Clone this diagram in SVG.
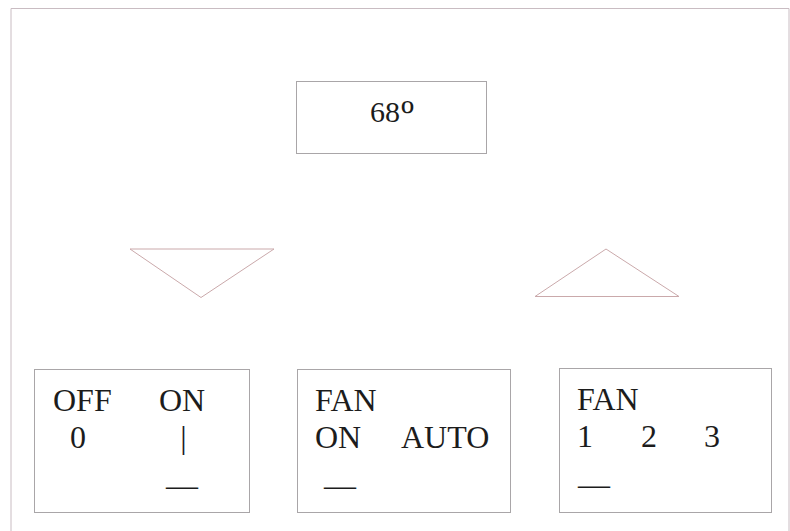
<svg xmlns="http://www.w3.org/2000/svg" width="790" height="531" viewBox="0 0 790 531">
<style>
.frame{fill:none;stroke:#c9bcc2;stroke-width:1}
.box{fill:none;stroke:#a9a6a8;stroke-width:1}
.tri{fill:none;stroke:#caa9ab;stroke-width:1}
text{font-family:"Liberation Serif","DejaVu Serif",serif;font-size:32px;fill:#1c1c1c}
</style>
<rect width="790" height="531" fill="#ffffff"/>
<g id="frame">
<path class="frame" d="M11,531 V8.5 H789 V531"/>
</g>
<g id="display">
<rect class="box" x="296.5" y="81.5" width="190" height="72"/>
<text x="370" y="122" style="font-size:30px">68<tspan style="font-size:42px" dx="1" dy="8">º</tspan></text>
</g>
<g id="down-button">
<polygon class="tri" points="130,249 274,249 201,297.5"/>
</g>
<g id="up-button">
<polygon class="tri" points="606,249 679,296.5 535,296.5"/>
</g>
<g id="power-switch">
<rect class="box" x="34.5" y="369.5" width="215" height="143"/>
<text x="53" y="411">OFF</text>
<text x="159" y="411">ON</text>
<text x="70" y="448">0</text>
<text x="183.5" y="448" text-anchor="middle">|</text>
<text x="166" y="496">—</text>
</g>
<g id="fan-mode-switch">
<rect class="box" x="297.5" y="369.5" width="213" height="143"/>
<text x="315" y="411">FAN</text>
<text x="315" y="448">ON</text>
<text x="401" y="448">AUTO</text>
<text x="324" y="496">—</text>
</g>
<g id="fan-speed-switch">
<rect class="box" x="559.5" y="368.5" width="212" height="144"/>
<text x="577" y="410">FAN</text>
<text x="577" y="447">1</text>
<text x="641" y="447">2</text>
<text x="704" y="447">3</text>
<text x="578" y="495">—</text>
</g>
<g id="connectors"></g>
</svg>
